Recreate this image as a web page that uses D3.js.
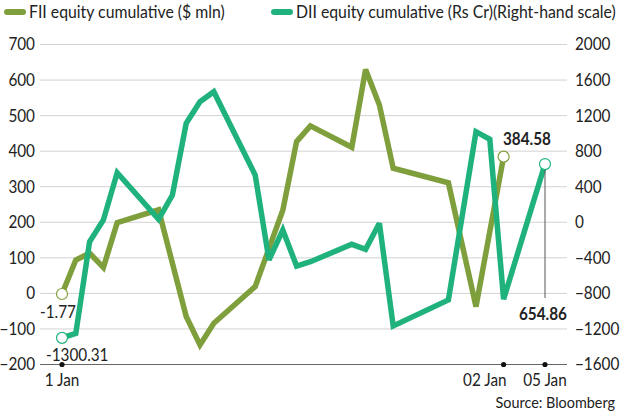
<!DOCTYPE html>
<html>
<head>
<meta charset="utf-8">
<script src="https://cdn.jsdelivr.net/npm/d3@7"></script>
<style>
  body { margin: 0; background: #fff; }
  svg text { font-family: Lato, "Open Sans", sans-serif; fill: #222; }
</style>
</head>
<body>
<div></div>
<script>
const W = 621, H = 414;

// trading days, only some carry a tick label
const days = d3.range(36);
const tickDays = [0, 32, 35];
const tickLabels = ["1 Jan", "02 Jan", "05 Jan"];

// null = no reading that day
const fii = [-1.77, 94, 113, 73, 199, null, null, 235, null, -65, -145, -84, null, null, 19, null,
  234, 427, 471, null, null, 411, 630, 530, 352, null, null, null, 311, null, -37, null, 384.58,
  null, null, null];
const dii = [-1300.31, -1249, -218, 26, 558, null, null, 34, 307, 1114, 1357, 1469, null, null, 532, -424,
  -87, -492, -444, null, null, -248, -304, -11, -1167, null, null, null, -874, null, 1019, 934, -866,
  null, null, 654.86];

const leftTicks = [-200, -100, 0, 100, 200, 300, 400, 500, 600, 700];
const rightTicks = [-1600, -1200, -800, -400, 0, 400, 800, 1200, 1600, 2000];

const fiiColor = "#7f9e3c";
const diiColor = "#1fb27c";

const plot = { left: 40, right: 567, top: 44.5, bottom: 364.5 };
const squeeze = 0.9; // reference font is a condensed face

const svg = d3.select('div')
  .append('svg')
  .attr('width', W)
  .attr('height', H);

const x = d3.scalePoint().domain(days).range([62, 545]);
const yL = d3.scaleLinear().domain([-200, 700]).range([plot.bottom, plot.top]);
const yR = d3.scaleLinear().domain([-1600, 2000]).range([plot.bottom, plot.top]);

// grid
svg.append('g')
  .selectAll('line')
  .data(leftTicks.slice(1))
  .join('line')
  .attr('x1', plot.left).attr('x2', plot.right)
  .attr('y1', d => yL(d)).attr('y2', d => yL(d))
  .attr('stroke', '#d2d2d2')
  .attr('stroke-width', 1);

// left labels
const axL = svg.append('g')
  .attr('transform', `translate(${plot.left - 5},0)`)
  .call(d3.axisLeft(yL).tickValues(leftTicks).tickSize(0).tickPadding(0).tickFormat(d3.format('d')));
axL.select('.domain').remove();
axL.selectAll('text').style('font-size', '17px').attr('fill', '#222');

// right labels
const axR = svg.append('g')
  .attr('transform', `translate(${plot.right + 8},0)`)
  .call(d3.axisRight(yR).tickValues(rightTicks).tickSize(0).tickPadding(0).tickFormat(d3.format('d')));
axR.select('.domain').remove();
axR.selectAll('text').style('font-size', '17px').attr('fill', '#222');

// baseline
svg.append('line')
  .attr('x1', plot.left).attr('x2', plot.right)
  .attr('y1', plot.bottom).attr('y2', plot.bottom)
  .attr('stroke', '#666')
  .attr('stroke-width', 1);

svg.append('g')
  .selectAll('circle')
  .data(tickDays)
  .join('circle')
  .attr('cx', d => x(d))
  .attr('cy', plot.bottom)
  .attr('r', 2.6)
  .attr('fill', '#111');

svg.append('g')
  .selectAll('text')
  .data(tickDays)
  .join('text')
  .attr('x', (d, i) => x(d) + (i === 1 ? 3 : 0))
  .attr('y', 386)
  .attr('text-anchor', (d, i) => i === 1 ? 'end' : 'middle')
  .style('font-size', '17px')
  .text((d, i) => tickLabels[i]);

// lines
const pts = (vals) => days.filter(d => vals[d] !== null).map(d => [d, vals[d]]);

const lineL = d3.line().x(d => x(d[0])).y(d => yL(d[1]));
const lineR = d3.line().x(d => x(d[0])).y(d => yR(d[1]));

const fiiPts = pts(fii);
const diiPts = pts(dii);

svg.append('path')
  .datum(fiiPts)
  .attr('d', lineL)
  .attr('fill', 'none')
  .attr('stroke', fiiColor)
  .attr('stroke-width', 5.5)
  .attr('stroke-linejoin', 'miter')
  .attr('stroke-miterlimit', 3);

svg.append('path')
  .datum(diiPts)
  .attr('d', lineR)
  .attr('fill', 'none')
  .attr('stroke', diiColor)
  .attr('stroke-width', 5.5)
  .attr('stroke-linejoin', 'miter')
  .attr('stroke-miterlimit', 3);

// leader line to the last DII value
const lastD = diiPts[diiPts.length - 1];
svg.append('line')
  .attr('x1', x(lastD[0])).attr('x2', x(lastD[0]))
  .attr('y1', yR(lastD[1]) + 5).attr('y2', 298)
  .attr('stroke', '#555')
  .attr('stroke-width', 1);

// end markers
const ends = [
  { p: fiiPts[0], y: yL, c: fiiColor },
  { p: fiiPts[fiiPts.length - 1], y: yL, c: fiiColor },
  { p: diiPts[0], y: yR, c: diiColor },
  { p: lastD, y: yR, c: diiColor }
];
svg.append('g')
  .selectAll('circle')
  .data(ends)
  .join('circle')
  .attr('cx', d => x(d.p[0]))
  .attr('cy', d => d.y(d.p[1]))
  .attr('r', 5.5)
  .attr('fill', '#fff')
  .attr('stroke', d => d.c)
  .attr('stroke-width', 1.2);

// value labels
svg.append('text').attr('x', 40).attr('y', 318)
  .style('font-size', '17px').text(fii[0]);
svg.append('text').attr('x', 46).attr('y', 361)
  .style('font-size', '17px').text(dii[0]);
svg.append('text').attr('x', 527).attr('y', 145).attr('text-anchor', 'middle')
  .style('font-size', '17px').style('font-weight', 'bold').text(fiiPts[fiiPts.length - 1][1]);
svg.append('text').attr('x', 543).attr('y', 320).attr('text-anchor', 'middle')
  .style('font-size', '17px').style('font-weight', 'bold').text(lastD[1]);

svg.append('text')
  .attr('x', 615).attr('y', 408)
  .attr('text-anchor', 'end')
  .style('font-size', '16px')
  .text('Source: Bloomberg');

// narrow every label around its own anchor point
svg.selectAll('text').each(function() {
  const t = d3.select(this);
  const ax = +t.attr('x') || 0;
  t.attr('transform', `translate(${ax},0) scale(${squeeze},1) translate(${-ax},0)`);
});

// legend
const legend = [
  { label: "FII equity cumulative ($ mln)", c: fiiColor, x: 4 },
  { label: "DII equity cumulative (Rs Cr)(Right-hand scale)", c: diiColor, x: 271 }
];
const lg = svg.append('g')
  .selectAll('g')
  .data(legend)
  .join('g')
  .attr('transform', d => `translate(${d.x},12)`);
lg.append('rect')
  .attr('x', 0).attr('y', -3).attr('width', 22).attr('height', 6).attr('rx', 3)
  .attr('fill', d => d.c);
lg.append('text')
  .attr('transform', 'translate(25,6) scale(0.93,1)')
  .style('font-size', '17px')
  .text(d => d.label);
</script>
</body>
</html>
